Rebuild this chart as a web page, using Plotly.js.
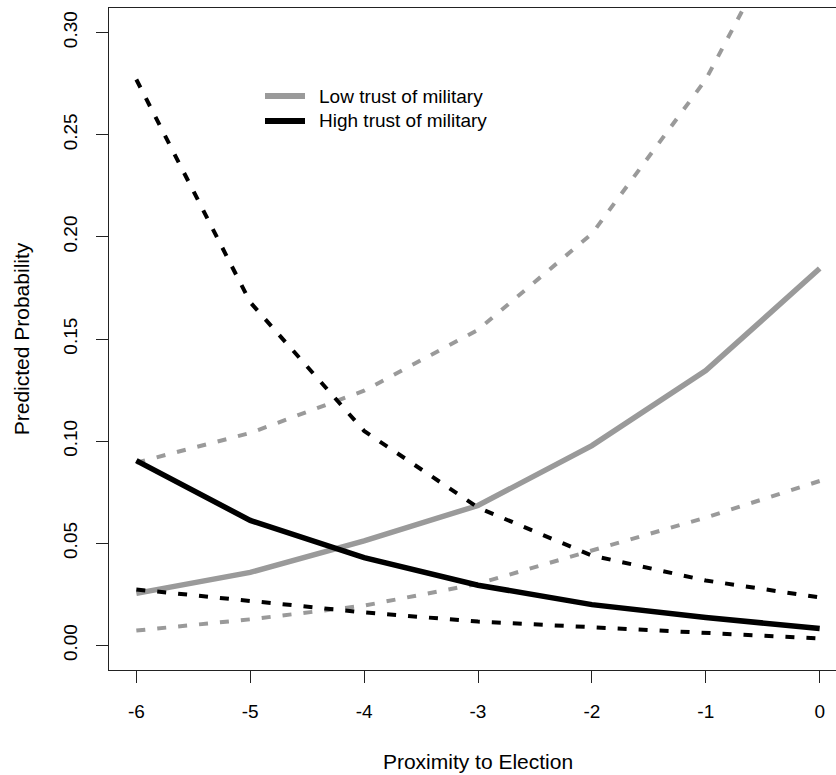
<!DOCTYPE html>
<html>
<head>
<meta charset="utf-8">
<script src="https://cdn.plot.ly/plotly-3.0.1.min.js"></script>
<style>
  html, body { margin: 0; padding: 0; overflow: hidden; background: #fff; }
  #chart { position: absolute; left: 0; top: 0; }
</style>
</head>
<body>
<div id="chart"></div>
<script>
// Proximity to election (x values)
const proximity = [-6, -5, -4, -3, -2, -1, 0];

// Low trust of military: predicted probability and confidence bounds
const lowMean  = [0.0255, 0.0358, 0.0512, 0.0685, 0.0978, 0.1345, 0.1845];
const lowUpper = [0.0895, 0.1040, 0.1247, 0.1545, 0.2015, 0.2770, 0.3820];
const lowLower = [0.0073, 0.0128, 0.0195, 0.0302, 0.0465, 0.0626, 0.0805];

// High trust of military: predicted probability and confidence bounds
const highMean  = [0.0905, 0.0612, 0.0430, 0.0295, 0.0200, 0.0137, 0.0083];
const highUpper = [0.2770, 0.1680, 0.1050, 0.0675, 0.0440, 0.0318, 0.0235];
const highLower = [0.0274, 0.0220, 0.0162, 0.0117, 0.0088, 0.0059, 0.0034];

const xTickVals = [-6, -5, -4, -3, -2, -1, 0];
const xTickText = ["-6", "-5", "-4", "-3", "-2", "-1", "0"];
const yTickVals = [0, 0.05, 0.10, 0.15, 0.20, 0.25, 0.30];
const yTickText = ["0.00", "0.05", "0.10", "0.15", "0.20", "0.25", "0.30"];

const seriesNames = ["Low trust of military", "High trust of military"];

const GRAY = "#9a9a9a";
const BLACK = "#000000";
const FONT = "Liberation Sans, Arial, Helvetica, sans-serif";

const dashStyle = "9px,12px";

const traces = [
  { x: proximity, y: lowMean, mode: "lines", name: seriesNames[0],
    line: { color: GRAY, width: 5.5 } },
  { x: proximity, y: lowUpper, mode: "lines", name: "Low upper",
    line: { color: GRAY, width: 4, dash: dashStyle } },
  { x: proximity, y: lowLower, mode: "lines", name: "Low lower",
    line: { color: GRAY, width: 4, dash: dashStyle } },
  { x: proximity, y: highMean, mode: "lines", name: seriesNames[1],
    line: { color: BLACK, width: 5.5 } },
  { x: proximity, y: highUpper, mode: "lines", name: "High upper",
    line: { color: BLACK, width: 4, dash: dashStyle } },
  { x: proximity, y: highLower, mode: "lines", name: "High lower",
    line: { color: BLACK, width: 4, dash: dashStyle } }
];

// plot-area geometry (pixels) used to place the hand-drawn legend
const PL = 109, PR = 847, PT = 8, PB = 670;
const px2x = p => (p - PL) / (PR - PL);
const px2y = p => (PB - p) / (PB - PT);

const legendRows = [96, 121];
const legendColors = [GRAY, BLACK];

const shapes = legendRows.map((row, i) => ({
  type: "line", xref: "paper", yref: "paper",
  x0: px2x(265), x1: px2x(305), y0: px2y(row), y1: px2y(row),
  line: { color: legendColors[i], width: 6 }
}));
const annotations = legendRows.map((row, i) => ({
  xref: "paper", yref: "paper", x: px2x(317), y: px2y(row),
  xanchor: "left", yanchor: "middle", showarrow: false,
  text: seriesNames[i], font: { family: FONT, size: 19, color: "#000" }
}));

const layout = {
  width: 850,
  height: 775,
  margin: { l: PL, r: 850 - PR, t: PT, b: 775 - PB, pad: 0 },
  paper_bgcolor: "#ffffff",
  plot_bgcolor: "#ffffff",
  font: { family: FONT, size: 19, color: "#000" },
  showlegend: false,
  shapes: shapes,
  annotations: annotations,
  xaxis: {
    range: [-6.24, 0.24],
    tickmode: "array", tickvals: xTickVals, ticktext: xTickText,
    ticks: "outside", ticklen: 12, tickwidth: 1, tickcolor: "#222",
    ticklabelstandoff: 12,
    showline: true, linecolor: "#222", linewidth: 1, mirror: true,
    showgrid: false, zeroline: false,
    tickfont: { family: FONT, size: 19, color: "#000" },
    title: { text: "Proximity to Election", font: { family: FONT, size: 21, color: "#000" }, standoff: 33 }
  },
  yaxis: {
    range: [-0.012, 0.312],
    tickmode: "array", tickvals: yTickVals, ticktext: yTickText,
    tickangle: -90,
    ticks: "outside", ticklen: 12, tickwidth: 1, tickcolor: "#222",
    ticklabelstandoff: 11,
    showline: true, linecolor: "#222", linewidth: 1, mirror: true,
    showgrid: false, zeroline: false,
    tickfont: { family: FONT, size: 19, color: "#000" },
    title: { text: "Predicted Probability", font: { family: FONT, size: 21, color: "#000" }, standoff: 25 }
  }
};

Plotly.newPlot("chart", traces, layout, { displayModeBar: false, staticPlot: true });
</script>
</body>
</html>
